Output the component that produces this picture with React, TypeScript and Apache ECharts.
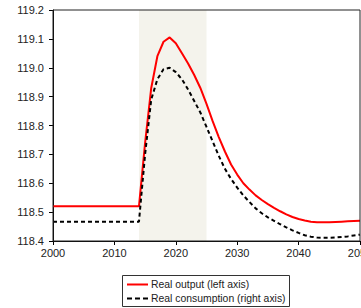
import React, { useEffect, useRef } from "react";
import * as echarts from "echarts";

const years: number[] = [];
for (let y = 2000; y <= 2050; y++) years.push(y);

const realOutput: number[] = [
  118.52, 118.52, 118.52, 118.52, 118.52, 118.52, 118.52, 118.52, 118.52, 118.52,
  118.52, 118.52, 118.52, 118.52, 118.52,
  118.74, 118.93, 119.04, 119.09, 119.105, 119.085, 119.05, 119.015, 118.975, 118.93,
  118.875, 118.815, 118.76, 118.71, 118.665, 118.63, 118.6, 118.578, 118.558, 118.542,
  118.528, 118.515, 118.503, 118.492, 118.483, 118.476, 118.471, 118.467, 118.465, 118.465,
  118.465, 118.466, 118.467, 118.468, 118.469, 118.47,
];

const realConsumption: number[] = [
  118.467, 118.467, 118.467, 118.467, 118.467, 118.467, 118.467, 118.467, 118.467, 118.467,
  118.467, 118.467, 118.467, 118.467, 118.467,
  118.7, 118.89, 118.96, 118.995, 119.0, 118.985, 118.96, 118.925, 118.885, 118.845,
  118.795, 118.745, 118.695, 118.65, 118.615, 118.585, 118.558, 118.535, 118.513, 118.496,
  118.482, 118.47, 118.458, 118.447, 118.437, 118.428, 118.42, 118.415, 118.412, 118.411,
  118.411, 118.412, 118.414, 118.416, 118.419, 118.422,
];

const shadeStart = 2014;
const shadeEnd = 2025;

const seriesNames = ["Real output (left axis)", "Real consumption (right axis)"];

export default function App() {
  const ref = useRef<HTMLDivElement>(null);
  useEffect(() => {
    if (!ref.current) return;
    const chart = echarts.init(ref.current, undefined, { renderer: "svg" });
    const font = "Liberation Sans, Arial, sans-serif";
    const legendFont = `10.4px "Liberation Sans", Arial, sans-serif`;
    chart.setOption({
      animation: false,
      grid: {
        show: true,
        z: 5,
        left: 53,
        right: 1,
        top: 10,
        bottom: 67,
        containLabel: false,
        outerBoundsMode: "none",
        borderColor: "#222",
        borderWidth: 1,
        backgroundColor: "transparent",
      },
      legend: { show: false },
      graphic: [
        {
          type: "rect",
          shape: { x: 122.5, y: 275.5, width: 167, height: 31 },
          style: { fill: "#fff", stroke: "#333", lineWidth: 1 },
        },
        {
          type: "line",
          shape: { x1: 127, y1: 284.5, x2: 148, y2: 284.5 },
          style: { stroke: "#ff0000", lineWidth: 2 },
        },
        {
          type: "text",
          x: 151,
          y: 284.5,
          style: {
            text: seriesNames[0],
            font: legendFont,
            fill: "#222",
            verticalAlign: "middle",
            align: "left",
          },
        },
        {
          type: "line",
          shape: { x1: 127, y1: 298.5, x2: 148, y2: 298.5 },
          style: { stroke: "#000", lineWidth: 2, lineDash: [5, 3] },
        },
        {
          type: "text",
          x: 151,
          y: 298.5,
          style: {
            text: seriesNames[1],
            font: legendFont,
            fill: "#222",
            verticalAlign: "middle",
            align: "left",
          },
        },
      ],
      xAxis: {
        type: "value",
        min: 2000,
        max: 2050,
        interval: 10,
        axisLine: { show: true, lineStyle: { color: "#000", width: 1 } },
        axisTick: { show: true, inside: false, length: 4, lineStyle: { color: "#000" } },
        axisLabel: {
          fontFamily: font,
          fontSize: 11,
          color: "#222",
          margin: 6,
          hideOverlap: false,
          formatter: (v: number) => String(v),
        },
        splitLine: { show: false },
      },
      yAxis: {
        type: "value",
        min: 118.4,
        max: 119.2,
        interval: 0.1,
        axisLine: { show: true, lineStyle: { color: "#000", width: 1 } },
        axisTick: { show: true, inside: false, length: 4, lineStyle: { color: "#000" } },
        axisLabel: {
          fontFamily: font,
          fontSize: 11,
          color: "#222",
          margin: 9,
          formatter: (v: number) => v.toFixed(1),
        },
        splitLine: { show: false },
      },
      series: [
        {
          name: seriesNames[0],
          type: "line",
          symbol: "none",
          z: 3,
          data: years.map((y, i) => [y, realOutput[i]]),
          lineStyle: { color: "#ff0000", width: 2 },
          itemStyle: { color: "#ff0000" },
          markArea: {
            silent: true,
            z: 1,
            itemStyle: { color: "#f4f3ec" },
            data: [[{ xAxis: shadeStart }, { xAxis: shadeEnd }]],
          },
        },
        {
          name: seriesNames[1],
          type: "line",
          symbol: "none",
          z: 3,
          data: years.map((y, i) => [y, realConsumption[i]]),
          lineStyle: { color: "#000", width: 2, type: [4, 3] },
          itemStyle: { color: "#000" },
        },
      ],
    });
    return () => chart.dispose();
  }, []);
  return (
    <div
      ref={ref}
      style={{ position: "fixed", left: 0, top: 0, width: 361, height: 308, background: "#fff" }}
    />
  );
}
